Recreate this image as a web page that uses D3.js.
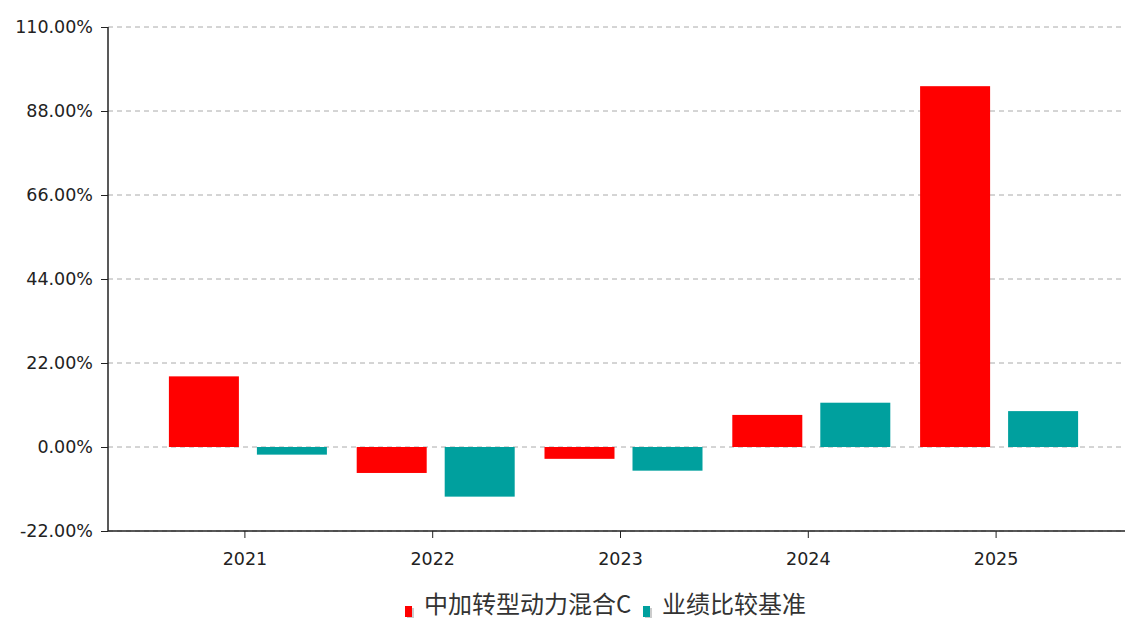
<!DOCTYPE html>
<html lang="zh">
<head>
<meta charset="utf-8">
<title>中加转型动力混合C</title>
<script src="https://cdn.jsdelivr.net/npm/d3@7"></script>
<style>
  * { margin: 0; padding: 0; box-sizing: border-box; }
  body { background: #fff; overflow: hidden; font-family: "DejaVu Sans", sans-serif; }
  svg { display: block; }
  .axis text { fill: #222; font-size: 17.5px; font-family: "DejaVu Sans", sans-serif; }
  .axis path, .axis line { stroke: #222; }
</style>
</head>
<body>
<svg id="chart" width="1125" height="625"></svg>
<script>
  // data
  const years = ["2021", "2022", "2023", "2024", "2025"];
  const seriesNames = ["中加转型动力混合C", "业绩比较基准"];
  const fundReturns = [18.5, -6.8, -3.1, 8.4, 94.5];
  const benchReturns = [-2.0, -13.0, -6.2, 11.6, 9.4];
  const yTicks = [-22, 0, 22, 44, 66, 88, 110];

  const COLORS = { "中加转型动力混合C": "#ff0000", "业绩比较基准": "#00a09e" };

  const rows = years.map((y, i) => ({ year: y, values: [
    { name: seriesNames[0], value: fundReturns[i] },
    { name: seriesNames[1], value: benchReturns[i] },
  ] }));

  const svg = d3.select("#chart");
  const plotLeft = 108, plotRight = 1125, plotTop = 27, plotBottom = 531;

  const y = d3.scaleLinear().domain([-22, 110]).range([plotBottom, plotTop]);
  const x = d3.scaleBand().domain(years).range([151, 1090]);
  // group of two bars sits slightly right of the tick
  const x1 = d3.scaleBand().domain(seriesNames).range([-76, 82]).paddingInner(18 / 88);

  // grid
  svg.append("g")
    .selectAll("line")
    .data(yTicks)
    .join("line")
    .attr("x1", plotLeft).attr("x2", plotRight)
    .attr("y1", (d) => y(d)).attr("y2", (d) => y(d))
    .attr("stroke", "#aaa")
    .attr("stroke-width", 1)
    .attr("stroke-dasharray", "5,4");

  // bars
  svg.append("g")
    .selectAll("g")
    .data(rows)
    .join("g")
    .attr("transform", (d) => `translate(${x(d.year) + x.bandwidth() / 2},0)`)
    .selectAll("rect")
    .data((d) => d.values)
    .join("rect")
    .attr("x", (d) => x1(d.name))
    .attr("width", x1.bandwidth())
    .attr("y", (d) => y(Math.max(0, d.value)))
    .attr("height", (d) => Math.abs(y(d.value) - y(0)))
    .attr("fill", (d) => COLORS[d.name]);

  // y axis
  const yAxis = svg.append("g")
    .attr("class", "axis")
    .attr("transform", `translate(${plotLeft},0)`)
    .call(d3.axisLeft(y).tickValues(yTicks).tickSize(7).tickPadding(8)
      .tickFormat((d) => d.toFixed(2) + "%"));
  yAxis.select(".domain").attr("d", `M0,${plotTop}V${plotBottom}`).attr("stroke-width", 1.5);

  // x axis
  const xAxis = svg.append("g")
    .attr("class", "axis")
    .attr("transform", `translate(0,${plotBottom})`)
    .call(d3.axisBottom(x).tickSize(7).tickPadding(15));
  xAxis.select(".domain").attr("d", `M${plotLeft},0H${plotRight}`).attr("stroke-width", 1.5);

  // legend
  const legend = svg.append("g").attr("transform", "translate(405,605)");
  const legendX = [0, 238];
  seriesNames.forEach((name, i) => {
    const g = legend.append("g").attr("transform", `translate(${legendX[i]},0)`);
    g.append("rect").attr("x", 2).attr("y", 3).attr("width", 7).attr("height", 10).attr("fill", "#ccc");
    g.append("rect").attr("x", 0).attr("y", 1).attr("width", 7).attr("height", 11).attr("fill", COLORS[name]);
    g.append("text")
      .attr("x", 19).attr("y", 0)
      .attr("dy", "0.35em")
      .attr("font-size", 24)
      .attr("font-family", "'Noto Sans CJK SC', sans-serif")
      .attr("fill", "#333")
      .text(name);
  });
</script>
</body>
</html>
